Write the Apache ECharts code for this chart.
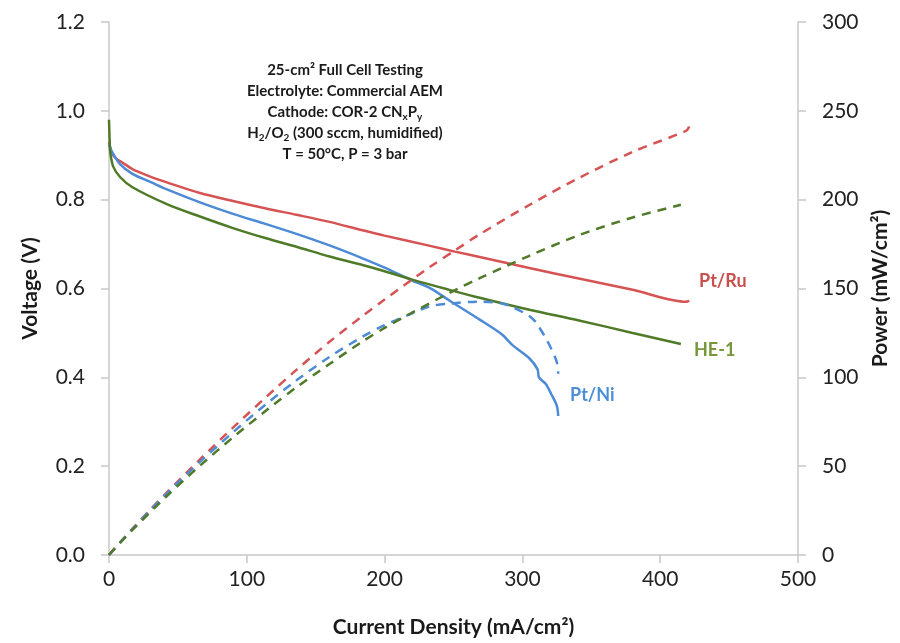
<!DOCTYPE html>
<html>
<head>
<meta charset="utf-8">
<script src="https://cdn.jsdelivr.net/npm/echarts@6/dist/echarts.min.js"></script>
<style>html,body{margin:0;padding:0;background:#fff}#c{width:900px;height:643px}</style>
</head>
<body>
<div id="c"></div>
<script>
// Current density (mA/cm2) samples, voltages (V) and power (mW/cm2)
var ptRuI = [0, 2, 5, 8, 17, 30, 42, 66, 90, 114, 136, 160, 184, 200, 233, 251, 269, 305, 340, 380, 419, 421];
var ptRuV = [0.93, 0.905, 0.893, 0.887, 0.869, 0.852, 0.839, 0.815, 0.797, 0.780, 0.766, 0.750, 0.731, 0.719, 0.696, 0.683, 0.671, 0.646, 0.623, 0.597, 0.570, 0.573];
var ptRuP = [0, 1.8, 4.5, 7.1, 14.8, 25.6, 35.2, 53.8, 71.7, 88.9, 104.2, 120, 134.5, 143.8, 162.2, 171.4, 180.5, 197, 211.8, 226.9, 238.8, 241.2];

var ptNiI = [0, 2, 8, 17, 30, 42, 66, 90, 114, 136, 160, 184, 200, 220, 233, 247, 269, 285, 293, 305, 311, 312, 317, 321, 325, 326];
var ptNiV = [0.925, 0.909, 0.88, 0.858, 0.84, 0.823, 0.794, 0.768, 0.745, 0.723, 0.697, 0.668, 0.647, 0.618, 0.601, 0.573, 0.530, 0.497, 0.472, 0.443, 0.418, 0.400, 0.385, 0.362, 0.336, 0.313];
var ptNiP = [0, 1.8, 7.0, 14.6, 25.2, 34.6, 52.4, 69.1, 84.9, 98.3, 111.5, 122.9, 129.4, 136, 140, 141.5, 142.6, 141.6, 139.5, 134.5, 130, 128.5, 122, 116, 108.5, 102];

var he1I = [0, 0.5, 1, 3, 8, 17, 42, 66, 90, 114, 136, 160, 184, 200, 220, 247, 269, 305, 341, 380, 415];
var he1V = [0.98, 0.93, 0.905, 0.875, 0.851, 0.828, 0.79, 0.762, 0.736, 0.713, 0.694, 0.672, 0.653, 0.639, 0.620, 0.597, 0.579, 0.552, 0.528, 0.500, 0.475];
var he1P = [0, 0.5, 0.9, 2.6, 6.8, 14.1, 33.2, 50.3, 66.2, 81.3, 94.4, 107.5, 120.2, 127.8, 136.4, 147.5, 155.8, 168.4, 180, 190, 197.1];

var xTicks = [0, 100, 200, 300, 400, 500];
var vTicks = [0, 0.2, 0.4, 0.6, 0.8, 1.0, 1.2];
var pTicks = [0, 50, 100, 150, 200, 250, 300];

var annotationLines = [
  '{b|25-cm² Full Cell Testing}',
  '{b|Electrolyte: Commercial AEM}',
  '{b|Cathode: COR-2 CN}{s|x}{b|P}{s|y}',
  '{b|H}{s|2}{b|/O}{s|2}{b| (300 sccm, humidified)}',
  '{b|T = 50°C, P = 3 bar}'
];

function pairs(xs, ys) { return xs.map(function (x, i) { return [x, ys[i]]; }); }

var RED = '#d65353', BLUE = '#4d8bd6', GREEN = '#4f7a28';
var FONT = 'Lato';
var axisCol = '#c8c8c8';

var chart = echarts.init(document.getElementById('c'));
function lineSeries(name, axis, xs, ys, color, dashed) {
  return {
    name: name, type: 'line', yAxisIndex: axis, data: pairs(xs, ys),
    showSymbol: false, smooth: 0.3,
    lineStyle: { color: color, width: 2.5, type: dashed ? [9, 7] : 'solid' }
  };
}
chart.setOption({
  backgroundColor: '#fff',
  animation: false,
  textStyle: { fontFamily: FONT },
  grid: { left: 109, right: 102, top: 22, bottom: 85 },
  xAxis: {
    type: 'value', min: xTicks[0], max: xTicks[xTicks.length - 1], interval: 100,
    name: 'Current Density (mA/cm²)', nameLocation: 'middle', nameGap: 62,
    nameTextStyle: { fontFamily: FONT, fontSize: 21, fontWeight: 'bold', color: '#1a1a1a' },
    axisLine: { show: true, lineStyle: { color: axisCol, width: 1.5 } },
    axisTick: { show: true, length: 8, lineStyle: { color: axisCol, width: 1.5 } },
    axisLabel: { fontFamily: FONT, fontSize: 21, color: '#222', margin: 14 },
    splitLine: { show: false }
  },
  yAxis: [{
    type: 'value', min: vTicks[0], max: vTicks[vTicks.length - 1], interval: 0.2,
    name: 'Voltage (V)', nameLocation: 'middle', nameGap: 68, nameRotate: 90,
    nameTextStyle: { fontFamily: FONT, fontSize: 21, fontWeight: 'bold', color: '#1a1a1a' },
    axisLine: { show: true, lineStyle: { color: axisCol, width: 1.5 } },
    axisTick: { show: true, length: 8, lineStyle: { color: axisCol, width: 1.5 } },
    axisLabel: { fontFamily: FONT, fontSize: 21, color: '#222', margin: 24, formatter: function (v) { return v.toFixed(1); } },
    splitLine: { show: false }
  }, {
    type: 'value', position: 'right', min: pTicks[0], max: pTicks[pTicks.length - 1], interval: 50,
    name: 'Power (mW/cm²)', nameLocation: 'middle', nameGap: 70, nameRotate: 90,
    nameTextStyle: { fontFamily: FONT, fontSize: 21, fontWeight: 'bold', color: '#1a1a1a' },
    axisLine: { show: true, lineStyle: { color: axisCol, width: 1.5 } },
    axisTick: { show: true, length: 8, lineStyle: { color: axisCol, width: 1.5 } },
    axisLabel: { fontFamily: FONT, fontSize: 21, color: '#222', margin: 24 },
    splitLine: { show: false }
  }],
  series: [
    lineSeries('Pt/Ru V', 0, ptRuI, ptRuV, RED, false),
    lineSeries('Pt/Ni V', 0, ptNiI, ptNiV, BLUE, false),
    lineSeries('HE-1 V', 0, he1I, he1V, GREEN, false),
    lineSeries('Pt/Ru P', 1, ptRuI, ptRuP, RED, true),
    lineSeries('Pt/Ni P', 1, ptNiI, ptNiP, BLUE, true),
    lineSeries('HE-1 P', 1, he1I, he1P, GREEN, true)
  ],
  graphic: [
    {
      type: 'text', x: 345, y: 60, z: 10,
      style: {
        text: annotationLines.join('\n'),
        textAlign: 'center',
        rich: {
          b: { fontFamily: FONT, fontSize: 15, fontWeight: 'bold', fill: '#1a1a1a', lineHeight: 21 },
          s: { fontFamily: FONT, fontSize: 10, fontWeight: 'bold', fill: '#1a1a1a', lineHeight: 21, padding: [9, 0, 0, 0] }
        }
      }
    },
    { type: 'text', x: 699, y: 272, style: { text: 'Pt/Ru', fontFamily: FONT, fontSize: 18, fontWeight: 'bold', fill: '#c94f4c' } },
    { type: 'text', x: 694, y: 341, style: { text: 'HE-1', fontFamily: FONT, fontSize: 18, fontWeight: 'bold', fill: '#76963a' } },
    { type: 'text', x: 570, y: 386, style: { text: 'Pt/Ni', fontFamily: FONT, fontSize: 18, fontWeight: 'bold', fill: '#4d8ed8' } }
  ]
});
</script>
</body>
</html>
